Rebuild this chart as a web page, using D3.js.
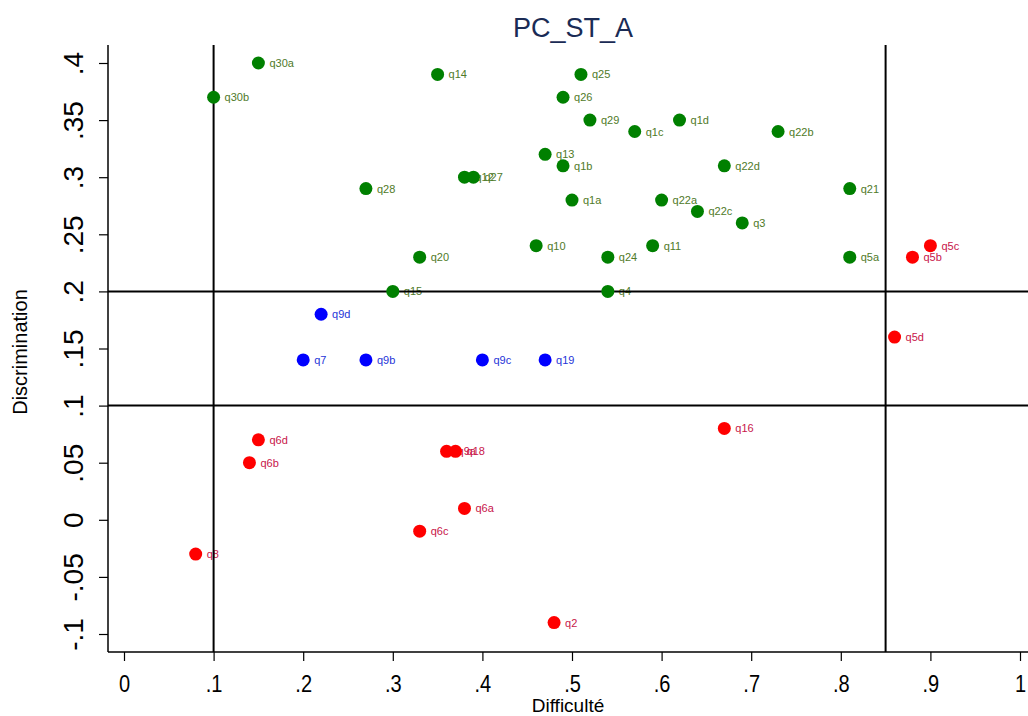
<!DOCTYPE html>
<html><head><meta charset="utf-8">
<script src="https://cdn.jsdelivr.net/npm/d3@7"></script>
<style>body{margin:0;background:#fff}svg{display:block}</style>
</head><body>
<script>
// ---- data ----
const greenNames = ["q30a","q30b","q14","q25","q26","q29","q1c","q1d","q22b","q13","q1b","q22d","q12","q27","q28","q21","q1a","q22a","q22c","q3","q10","q11","q20","q24","q5a","q15","q4"];
const greenX = [0.15,0.10,0.35,0.51,0.49,0.52,0.57,0.62,0.73,0.47,0.49,0.67,0.38,0.39,0.27,0.81,0.50,0.60,0.64,0.69,0.46,0.59,0.33,0.54,0.81,0.30,0.54];
const greenY = [0.40,0.37,0.39,0.39,0.37,0.35,0.34,0.35,0.34,0.32,0.31,0.31,0.30,0.30,0.29,0.29,0.28,0.28,0.27,0.26,0.24,0.24,0.23,0.23,0.23,0.20,0.20];
const blueNames = ["q9d","q7","q9b","q9c","q19"];
const blueX = [0.22,0.20,0.27,0.40,0.47];
const blueY = [0.18,0.14,0.14,0.14,0.14];
const redNames = ["q5c","q5b","q5d","q16","q6d","q6b","q9a","q18","q6a","q6c","q8","q2"];
const redX = [0.90,0.88,0.86,0.67,0.15,0.14,0.36,0.37,0.38,0.33,0.08,0.48];
const redY = [0.24,0.23,0.16,0.08,0.07,0.05,0.06,0.06,0.01,-0.01,-0.03,-0.09];
const xTicks = [0,0.1,0.2,0.3,0.4,0.5,0.6,0.7,0.8,0.9,1];
const xTickLabels = ["0",".1",".2",".3",".4",".5",".6",".7",".8",".9","1"];
const yTicks = [-0.1,-0.05,0,0.05,0.1,0.15,0.2,0.25,0.3,0.35,0.4];
const yTickLabels = ["-.1","-.05","0",".05",".1",".15",".2",".25",".3",".35",".4"];
const xRefLines = [0.1,0.85];
const yRefLines = [0.1,0.2];

const W=1028,H=716;
const svg=d3.select("body").append("svg").attr("width",W).attr("height",H);
const x=d3.scaleLinear().domain([0,1]).range([124,1020]);
const y=d3.scaleLinear().domain([-0.1,0.4]).range([634,63]);
const pL=108,pR=1028,pT=45,pB=652;
const font="Arial, 'Liberation Sans', sans-serif";

// title
svg.append("text").attr("x",573).attr("y",37).attr("text-anchor","middle")
  .attr("font-family",font).attr("font-size",27).attr("fill","#1a2b55").text("PC_ST_A");

// axes
const xAxis=d3.axisBottom(x).tickValues(xTicks).tickFormat((d,i)=>xTickLabels[i]).tickSize(9).tickSizeOuter(0);
const gx=svg.append("g").attr("transform",`translate(0,${pB})`).call(xAxis);
gx.select(".domain").remove();
svg.append("line").attr("x1",pL).attr("x2",pR).attr("y1",pB).attr("y2",pB).attr("stroke","#000").attr("stroke-width",1.5);
gx.selectAll(".tick line").attr("stroke","#000").attr("stroke-width",1.2);
gx.selectAll(".tick text").attr("font-family",font).attr("font-size",23).attr("fill","#000")
  .attr("y",0).attr("dy",0).attr("transform","translate(0,40) scale(0.87,1)");

const yAxis=d3.axisLeft(y).tickValues(yTicks).tickFormat((d,i)=>yTickLabels[i]).tickSize(9).tickSizeOuter(0);
const gy=svg.append("g").attr("transform",`translate(${pL},0)`).call(yAxis);
gy.select(".domain").remove();
svg.append("line").attr("x1",pL).attr("x2",pL).attr("y1",pT).attr("y2",pB).attr("stroke","#000").attr("stroke-width",1.5);
gy.selectAll(".tick line").attr("stroke","#000").attr("stroke-width",1.2);
gy.selectAll(".tick text").attr("font-family",font).attr("font-size",28).attr("fill","#000")
  .attr("x",0).attr("dy",0).attr("text-anchor","middle")
  .attr("transform","translate(-25,0) rotate(-90)");

// axis titles
svg.append("text").attr("x",568).attr("y",712).attr("text-anchor","middle")
  .attr("font-family",font).attr("font-size",19).text("Difficulté");
svg.append("text").attr("transform",`translate(27,352) rotate(-90)`).attr("text-anchor","middle")
  .attr("font-family",font).attr("font-size",20).text("Discrimination");

// groups
const groups=[
  {names:greenNames,xs:greenX,ys:greenY,fill:"#008000",lab:"#4f7a28"},
  {names:blueNames,xs:blueX,ys:blueY,fill:"#0000ff",lab:"#1f35d8"},
  {names:redNames,xs:redX,ys:redY,fill:"#ff0000",lab:"#c8154a"}
];
// labels
groups.forEach(g=>{
  svg.append("g").selectAll("text").data(g.names).join("text")
    .attr("x",(d,i)=>x(g.xs[i])+11).attr("y",(d,i)=>y(g.ys[i])+4)
    .attr("font-family",font).attr("font-size",11).attr("fill",g.lab).text(d=>d);
});
// reference lines
xRefLines.forEach(v=>svg.append("line").attr("x1",x(v)).attr("x2",x(v)).attr("y1",pT).attr("y2",pB).attr("stroke","#000").attr("stroke-width",2));
yRefLines.forEach(v=>svg.append("line").attr("x1",pL).attr("x2",pR).attr("y1",y(v)).attr("y2",y(v)).attr("stroke","#000").attr("stroke-width",2));
// points
groups.forEach(g=>{
  svg.append("g").selectAll("circle").data(g.names).join("circle")
    .attr("cx",(d,i)=>x(g.xs[i])).attr("cy",(d,i)=>y(g.ys[i])).attr("r",6.5).attr("fill",g.fill);
});
</script>
</body></html>
